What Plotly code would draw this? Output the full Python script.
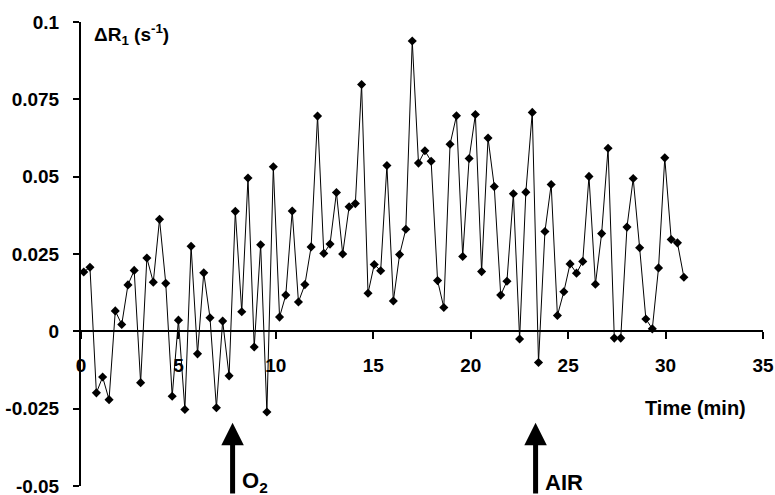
import plotly.graph_objects as go

# time (min)
time_min = [0.14, 0.46, 0.79, 1.11, 1.44, 1.76, 2.09, 2.41, 2.73, 3.06,
            3.38, 3.71, 4.03, 4.35, 4.68, 5.00, 5.33, 5.65, 5.98, 6.30,
            6.62, 6.95, 7.27, 7.60, 7.92, 8.25, 8.57, 8.89, 9.22, 9.54,
            9.87, 10.19, 10.51, 10.84, 11.16, 11.49, 11.81, 12.14, 12.46, 12.78,
            13.11, 13.43, 13.76, 14.08, 14.40, 14.73, 15.05, 15.38, 15.70, 16.03,
            16.35, 16.67, 17.00, 17.32, 17.65, 17.97, 18.30, 18.62, 18.94, 19.27,
            19.59, 19.92, 20.24, 20.56, 20.89, 21.21, 21.54, 21.86, 22.19, 22.51,
            22.83, 23.16, 23.48, 23.81, 24.13, 24.45, 24.78, 25.10, 25.43, 25.75,
            26.07, 26.40, 26.72, 27.05, 27.37, 27.70, 28.02, 28.34, 28.67, 28.99,
            29.32, 29.64, 29.96, 30.29, 30.61, 30.94]

# delta R1 (s^-1)
delta_r1 = [0.0192, 0.0207, -0.0199, -0.0148, -0.0221, 0.0066, 0.0022, 0.0150, 0.0197, -0.0166,
            0.0237, 0.0159, 0.0362, 0.0155, -0.0210, 0.0036, -0.0253, 0.0275, -0.0073, 0.0189,
            0.0044, -0.0247, 0.0033, -0.0144, 0.0388, 0.0063, 0.0496, -0.0051, 0.0280, -0.0261,
            0.0532, 0.0046, 0.0117, 0.0389, 0.0095, 0.0151, 0.0273, 0.0696, 0.0252, 0.0282,
            0.0449, 0.0250, 0.0403, 0.0413, 0.0798, 0.0123, 0.0216, 0.0196, 0.0536, 0.0098,
            0.0248, 0.0330, 0.0939, 0.0544, 0.0584, 0.0550, 0.0164, 0.0077, 0.0605, 0.0697,
            0.0242, 0.0559, 0.0701, 0.0193, 0.0625, 0.0468, 0.0117, 0.0162, 0.0445, -0.0025,
            0.0450, 0.0708, -0.0101, 0.0323, 0.0475, 0.0051, 0.0128, 0.0218, 0.0188, 0.0226,
            0.0501, 0.0152, 0.0316, 0.0592, -0.0022, -0.0022, 0.0337, 0.0494, 0.0270, 0.0040,
            0.0008, 0.0205, 0.0561, 0.0297, 0.0286, 0.0175]

x_tickvals = [0, 5, 10, 15, 20, 25, 30, 35]
y_tickvals = [-0.05, -0.025, 0, 0.025, 0.05, 0.075, 0.1]
y_ticktext = ["-0.05", "-0.025", "0", "0.025", "0.05", "0.075", "0.1"]

events = ["O<sub>2</sub>", "AIR"]
event_times = [7.78, 23.33]

FONT = "Liberation Sans, Arial, sans-serif"
FS = 19

fig = go.Figure()
fig.add_trace(go.Scatter(
    x=time_min, y=delta_r1, mode="lines+markers",
    line=dict(color="black", width=1),
    marker=dict(symbol="diamond", size=7, color="black"),
    showlegend=False, cliponaxis=False,
))

fig.update_layout(
    width=775, height=495,
    margin=dict(l=81, r=12, t=22, b=9),
    paper_bgcolor="white", plot_bgcolor="white",
    font=dict(family=FONT, size=FS, color="black"),
    xaxis=dict(
        range=[0, 35.001], tickvals=x_tickvals, showgrid=False, zeroline=False,
        showline=True, linecolor="black", linewidth=2,
        ticks="outside", ticklen=7, tickwidth=2, tickcolor="black",
        anchor="free", position=1/3, ticklabelstandoff=10, automargin=False,
        ticklabeloverflow="allow",
        tickfont=dict(family=FONT, size=FS, color="black", weight="bold"),
    ),
    yaxis=dict(
        range=[-0.05003, 0.10003], tickvals=y_tickvals, ticktext=y_ticktext,
        showgrid=False, zeroline=False, automargin=False,
        showline=True, linecolor="black", linewidth=2,
        ticks="outside", ticklen=6, tickwidth=2, tickcolor="black",
        ticklabelstandoff=10, ticklabeloverflow="allow",
        tickfont=dict(family=FONT, size=FS, color="black", weight="bold"),
    ),
)

# y-axis label
fig.add_annotation(
    xref="paper", yref="paper", x=0.016, y=0.972, xanchor="left", yanchor="middle",
    text="<b>ΔR<sub>1</sub> (s<sup>-1</sup>)</b>", showarrow=False,
    font=dict(family=FONT, size=FS, color="black"),
)
# x-axis label
fig.add_annotation(
    xref="paper", yref="paper", x=(695 - 81) / 682, y=(486 - 408) / 464,
    xanchor="center", yanchor="middle",
    text="<b>Time (min)</b>", showarrow=False,
    font=dict(family=FONT, size=20, color="black"),
)

# event arrows and labels
for lab, t in zip(events, event_times):
    fig.add_annotation(
        x=t, y=-0.0296, xref="x", yref="y", text="", showarrow=True,
        ax=0, ay=75, arrowhead=2, arrowsize=0.9, arrowwidth=5, arrowcolor="black",
        standoff=0,
    )
    fig.add_annotation(
        x=t, y=-0.0488, xref="x", yref="y", xanchor="left", yanchor="middle",
        xshift=7, text="<b>" + lab + "</b>", showarrow=False,
        font=dict(family=FONT, size=22, color="black"),
    )

fig.write_html("out.html", config={"displayModeBar": False},
               post_script="document.body.style.margin='0px';")
